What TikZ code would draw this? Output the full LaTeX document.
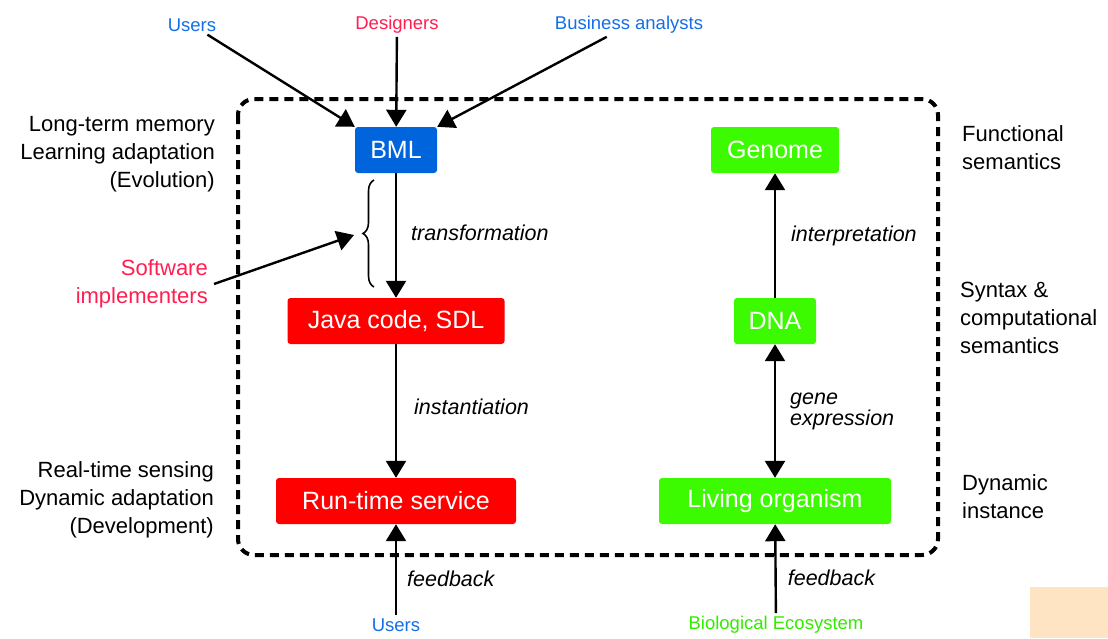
\documentclass[tikz,border=0pt]{standalone}
\usepackage{fontspec}
\setmainfont{Liberation Sans}
\usetikzlibrary{arrows.meta, decorations.pathreplacing}

\definecolor{bmlblue}{RGB}{0,100,220}
\definecolor{swred}{RGB}{255,0,0}
\definecolor{biogreen}{RGB}{60,250,0}
\definecolor{userblue}{RGB}{20,110,230}
\definecolor{designred}{RGB}{255,30,80}
\definecolor{ecogreen}{RGB}{50,235,0}
\definecolor{peach}{RGB}{255,228,196}

\begin{document}
\begin{tikzpicture}[
  x=1pt, y=-1pt,
  box/.style={rectangle, rounded corners=3pt, text=white, minimum height=46pt, inner sep=4pt, font=\fontsize{25}{30}\selectfont},
  swbox/.style={box, fill=swred},
  biobox/.style={box, fill=biogreen},
  actor/.style={font=\fontsize{18.5}{22}\selectfont, inner sep=3pt},
  note/.style={font=\fontsize{22}{28}\selectfont, inner sep=0pt},
  lbl/.style={font=\itshape\fontsize{21.5}{21}\selectfont, inner sep=2pt},
  tip/.tip={Triangle[length=17pt 0, width=20pt 0]},
  arrow/.style={-tip, line width=2.4pt},
  dblarrow/.style={tip-tip, line width=2.4pt},
]
\useasboundingbox (0,0) rectangle (1108,638);

% Boundary
\draw[line width=4pt, dash pattern=on 9pt off 6pt, rounded corners=16pt] (238,99) rectangle (938,555);

% Software column
\node[box, fill=bmlblue, minimum width=82pt] (bml) at (396,150) {BML};
\node[swbox, minimum width=217pt] (java) at (396,321) {Java code, SDL};
\node[swbox, minimum width=240pt] (run) at (396,501) {Run-time service};

% Biology column
\node[biobox, minimum width=128pt] (genome) at (775,150) {Genome};
\node[biobox, minimum width=82pt] (dna) at (775,321) {DNA};
\node[biobox, minimum width=232pt] (living) at (775,501) {Living organism};

% Actors
\node[actor, text=userblue] (users) at (192,25) {Users};
\node[actor, text=designred] (designers) at (397,25) {Designers};
\node[actor, text=userblue] (analysts) at (629,25) {Business analysts};
\node[actor, text=userblue] (usersb) at (396,625) {Users};
\node[actor, text=ecogreen] (eco) at (776,625) {Biological Ecosystem};

% Side notes
\node[note, anchor=east, align=right] (evo) at (215,154) {Long-term memory\\Learning adaptation\\(Evolution)};
\node[note, anchor=east, align=right] (devel) at (214,500) {Real-time sensing\\Dynamic adaptation\\(Development)};
\node[note, anchor=east, align=right, text=designred, inner sep=6pt] (impl) at (214,284) {Software\\implementers};
\node[note, anchor=west, align=left] (funsem) at (962,148) {Functional\\semantics};
\node[note, anchor=west, align=left] (synsem) at (960,318) {Syntax \&\\computational\\semantics};
\node[note, anchor=west, align=left] (dyninst) at (962,497) {Dynamic\\instance};

% Brace
\draw[line width=1.6pt, decorate, decoration={brace, amplitude=11pt}] (374,287) -- (374,180);
\coordinate (brtip) at (354,235);

% Connections
\draw[arrow] (users) -- (bml.north west);
\draw[arrow] (designers) -- (bml);
\draw[arrow] (analysts) -- (bml.north east);
\draw[arrow] (impl.east) -- (brtip);
\draw[arrow] (bml) -- node[lbl, right=12pt, pos=0.48] {transformation} (java);
\draw[arrow] (java) -- node[lbl, right=15pt, pos=0.47] {instantiation} (run);
\draw[arrow] (usersb) -- node[lbl, right=8pt, pos=0.4] {feedback} (run);

\draw[arrow] (dna) -- node[lbl, right=13pt] {interpretation} (genome);
\draw[dblarrow] (dna) -- node[lbl, right=12pt, align=left] {gene\\expression} (living);
\draw[arrow] (eco) -- node[lbl, right=9pt, pos=0.4] {feedback} (living);

% Corner patch
\fill[peach] (1030,587) rectangle (1108,638);

\end{tikzpicture}
\end{document}
